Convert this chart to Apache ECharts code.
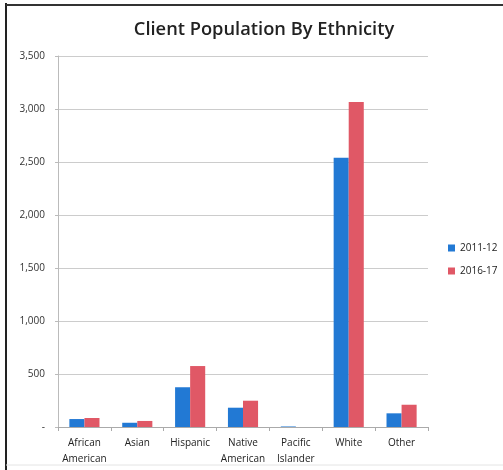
<!DOCTYPE html>
<html><head><meta charset="utf-8">
<script src="https://cdn.jsdelivr.net/npm/echarts@6/dist/echarts.min.js"></script>
<style>html,body{margin:0;padding:0;background:#fff}#c{width:503px;height:470px}</style>
</head><body><div id="c"></div>
<script>
const categories = ["African\nAmerican","Asian","Hispanic","Native\nAmerican","Pacific\nIslander","White","Other"];
const series2011 = [75, 40, 375, 182, 5, 2540, 129];
const series2016 = [85, 57, 575, 248, 0, 3065, 210];
const seriesNames = ["2011-12","2016-17"];
const yTicks = {min:0, max:3500, interval:500};

const chart = echarts.init(document.getElementById('c'));
chart.setOption({
  animation:false,
  backgroundColor:'#fff',
  title:{text:'Client Population By Ethnicity', left:259, textAlign:'center', top:16,
    textStyle:{fontFamily:'Open Sans', fontSize:18.3, fontWeight:600, color:'#222'}},
  legend:{orient:'vertical', left:443, top:238, itemWidth:7, itemHeight:7, itemGap:13,
    icon:'rect', textStyle:{fontFamily:'Open Sans', fontSize:10, color:'#222'}, data:seriesNames},
  grid:{left:58, right:75, top:56, bottom:43},
  xAxis:{type:'category', data:categories,
    axisLine:{lineStyle:{color:'#aaa'}},
    axisTick:{show:true, length:4, lineStyle:{color:'#aaa'}},
    axisLabel:{fontFamily:'Open Sans', fontSize:10, color:'#222', lineHeight:16, margin:8, interval:0}},
  yAxis:{type:'value', min:yTicks.min, max:yTicks.max, interval:yTicks.interval,
    axisLine:{show:true, lineStyle:{color:'#bbb'}},
    axisTick:{show:true, length:3, lineStyle:{color:'#bbb'}},
    splitLine:{lineStyle:{color:'#ccc'}},
    axisLabel:{fontFamily:'Open Sans', fontSize:10, color:'#333', margin:13,
      formatter:v=> v===0 ? '-' : v.toLocaleString('en-US')}},
  series:[
    {name:seriesNames[0], type:'bar', data:series2011, barGap:'0%', barCategoryGap:'43%',
      itemStyle:{color:'#2279d4'}},
    {name:seriesNames[1], type:'bar', data:series2016, barGap:'0%', barCategoryGap:'43%',
      itemStyle:{color:'#e05866'}}
  ],
  graphic:[
    {type:'line', shape:{x1:6,y1:3,x2:6,y2:470}, style:{stroke:'#222', lineWidth:2}},
    {type:'line', shape:{x1:6,y1:5,x2:503,y2:5}, style:{stroke:'#333', lineWidth:2}},
    {type:'line', shape:{x1:6,y1:465,x2:503,y2:465}, style:{stroke:'#e4e4e4', lineWidth:1}}
  ]
});
</script></body></html>
